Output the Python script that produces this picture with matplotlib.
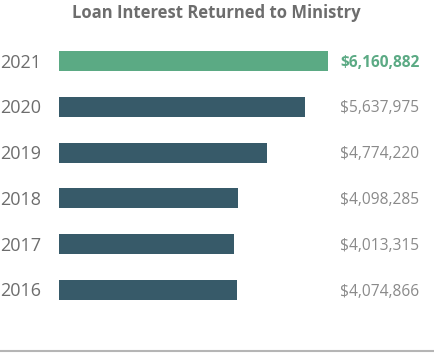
import matplotlib.pyplot as plt
from matplotlib.lines import Line2D
from matplotlib.transforms import blended_transform_factory, offset_copy

years = ["2016", "2017", "2018", "2019", "2020", "2021"]
values = [4074866, 4013315, 4098285, 4774220, 5637975, 6160882]
labels = ["$4,074,866", "$4,013,315", "$4,098,285", "$4,774,220", "$5,637,975", "$6,160,882"]

plt.rcParams['font.family'] = ['Open Sans', 'DejaVu Sans']

W, H = 434, 353
fig = plt.figure(figsize=(W / 100, H / 100), dpi=100)

# axes placed in pixel terms
left, right = 59, 328
top, bottom = 38.1, 312.9
ax = fig.add_axes([left / W, 1 - bottom / H, (right - left) / W, (bottom - top) / H])

green = "#5BAA84"
slate = "#375A69"
colors = [slate] * 5 + [green]
ypos = list(range(len(years)))
ax.barh(ypos, values, height=0.44, color=colors)
ax.set_xlim(0, max(values))
ax.set_ylim(-0.5, len(years) - 0.5)
ax.axis('off')

tr = blended_transform_factory(fig.transFigure, ax.transData)
tr = offset_copy(tr, fig=fig, y=-1.5, units='dots')
for y, yr, lab in zip(ypos, years, labels):
    fig.text(0.5 / W, y, yr, transform=tr, ha='left', va='center',
             fontsize=13, color="#6d6d6d")
    hl = yr == "2021"
    fig.text(340 / W, y, lab, transform=tr, ha='left', va='center',
             fontsize=11.2, color=green if hl else "#8a8a8a",
             fontweight='bold' if hl else 'normal')

fig.text(216 / W, 1 - 13 / H, "Loan Interest Returned to Ministry",
         ha='center', va='center', fontsize=12, fontweight='bold', color="#6d6d6d")

fig.add_artist(Line2D([0, 1], [1 - 350.5 / H] * 2, color="#b5b5b5", lw=1.5,
                      transform=fig.transFigure))

fig.savefig("out.png", dpi=100)
